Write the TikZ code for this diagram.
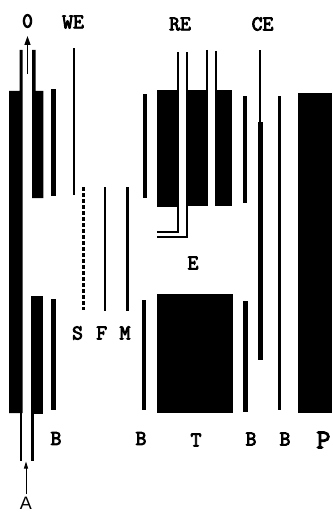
\documentclass[tikz,border=0pt]{standalone}
\usepackage{fontspec}
\newfontfamily\labfont{Latin Modern Mono}[FakeBold=4]
\newfontfamily\afont{Liberation Sans}
\usetikzlibrary{arrows.meta}
\begin{document}
\begin{tikzpicture}[x=1pt,y=-1pt,
  lab/.style={font=\labfont\fontsize{21}{21}\selectfont, inner sep=0pt},
  biglab/.style={font=\labfont\fontsize{27}{27}\selectfont, inner sep=0pt},
  alab/.style={font=\afont\fontsize{18}{18}\selectfont, inner sep=0pt},
  tube/.style={draw=black, line width=1.8pt, line join=miter},
  wire/.style={draw=black, line width=2.4pt}]
\useasboundingbox (0,0) rectangle (332,513);
% left electrode pair
\fill (9,91) -- (19.5,91) -- (19.5,50) -- (22.5,50) -- (22.5,413) -- (9,413) -- cycle;
\fill (19.5,413) rectangle (21.7,461);
\fill (32,50) -- (35.5,50) -- (35.5,91) -- (43.3,91) -- (43.3,198) -- (32,198) -- cycle;
\fill (31,296) rectangle (43.3,414);
\fill (31,414) rectangle (34.3,461);
% B plates
\fill (51,89.5) rectangle (55.7,195.5);
\fill (51,299) rectangle (55.7,410);
% WE
\fill (72.7,48.5) rectangle (75.3,195);
% S F M
\draw[wire, dash pattern=on 4pt off 2pt] (83.5,187) -- (83.5,310);
\fill (104,187) rectangle (106,311);
\fill (126.3,187) rectangle (128.7,311);
% B plates
\fill (142.5,94) rectangle (147,198);
\fill (141.5,300) rectangle (146,410);
% RE blocks
\fill (157.3,90.5) rectangle (178.5,206.5);
\fill (186,90.5) rectangle (208.3,206);
\fill (215,90.5) rectangle (232,205.5);
\draw[tube] (177.7,52) -- (177.7,232) -- (157.3,232);
\draw[tube] (186.8,52.5) -- (186.8,237) -- (157.3,237);
\draw[tube] (207.3,50) -- (207.3,91);
\draw[tube] (216,51) -- (216,91);
% T
\fill (157.3,294.3) rectangle (232.5,413.3);
% right B plates
\fill (242.5,96.5) rectangle (246.7,202.7);
\fill (243.3,301) rectangle (247.7,411.7);
% CE
\fill (259,50) rectangle (261,122);
\fill (257.5,121.7) rectangle (262.7,360);
% thin B
\fill (277.8,96) rectangle (280.5,410);
% P
\fill (298,93) rectangle (332,413);
% labels
\node[lab] (o) at (27.5,21) {0};
\node[lab] (we) at (73,22) {WE};
\node[lab] (re) at (180,24) {RE};
\node[lab] (ce) at (262.5,24) {CE};
\node[lab] (e) at (193,263) {E};
\node[lab] (s) at (77.5,333) {S};
\node[lab] (f) at (101.7,333) {F};
\node[lab] (m) at (125,333) {M};
\node[lab] (b1) at (56,438.5) {B};
\node[lab] (b2) at (141,438.5) {B};
\node[lab] (t) at (196,440) {T};
\node[lab] (b3) at (251,439) {B};
\node[lab] (b4) at (285,439) {B};
\node[biglab] (p) at (323.5,440) {P};
\node[alab] (a) at (26,503.5) {A};
% arrows
\coordinate (obase) at (27.5,74);
\coordinate (otip) at (27.5,36);
\draw[line width=1.3pt, -{Triangle[length=9pt,width=6pt]}] (obase) -- (otip);
\coordinate (atip) at (26,461.5);
\draw[line width=0.8pt, -{Triangle[length=7pt,width=4pt]}, shorten <=3pt] (a.north) -- (atip);
\end{tikzpicture}
\end{document}
